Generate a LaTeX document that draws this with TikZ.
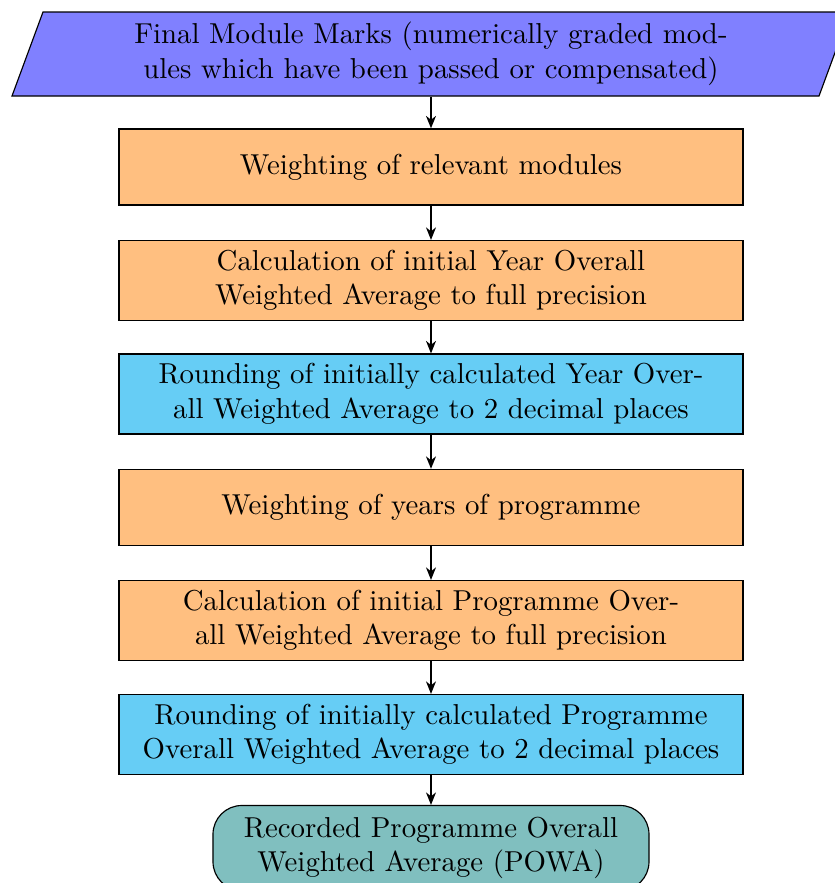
\documentclass[tikz,border=0pt]{standalone}
\usetikzlibrary{arrows.meta}
\definecolor{paraBlue}{RGB}{128,128,255}
\definecolor{boxOrange}{RGB}{255,191,128}
\definecolor{boxCyan}{RGB}{102,205,245}
\definecolor{termTeal}{RGB}{128,191,191}
\begin{document}
\begin{tikzpicture}[x=0.347pt,y=-0.347pt,
  stepbox/.style={draw, rectangle, align=center, minimum width=216.5pt, minimum height=26.4pt, inner sep=3.33pt},
  orangebox/.style={stepbox, fill=boxOrange},
  cyanbox/.style={stepbox, fill=boxCyan},
  termbox/.style={draw, rectangle, rounded corners=10pt, fill=termTeal, align=center, minimum width=151.3pt, minimum height=29.5pt, inner sep=3.33pt},
  paratext/.style={rectangle, align=center, minimum width=280pt, minimum height=29.1pt, inner sep=0pt},
  flow/.style={-{Stealth[length=4.3pt, width=3.4pt, inset=1.3pt]}, line width=0.7pt}]
\useasboundingbox (0,0) rectangle (835,883);
\filldraw[fill=paraBlue, draw=black] (12,96) -- (43,12) -- (850,12) -- (819,96) -- cycle;
\node[paratext] (p) at (431,54) {Final Module Marks (numerically graded mod-\\ules which have been passed or compensated)};
\node[orangebox] (b1) at (431,167) {Weighting of relevant modules};
\node[orangebox] (b2) at (431,280.5) {Calculation of initial Year Overall\\Weighted Average to full precision};
\node[cyanbox] (b3) at (431,394) {Rounding of initially calculated Year Over-\\all Weighted Average to 2 decimal places};
\node[orangebox] (b4) at (431,507.5) {Weighting of years of programme};
\node[orangebox] (b5) at (431,620.5) {Calculation of initial Programme Over-\\all Weighted Average to full precision};
\node[cyanbox] (b6) at (431,734.5) {Rounding of initially calculated Programme\\Overall Weighted Average to 2 decimal places};
\node[termbox] (t) at (431,848) {Recorded Programme Overall\\Weighted Average (POWA)};
\draw[flow] (p.south) -- (b1.north);
\draw[flow] (b1) -- (b2);
\draw[flow] (b2) -- (b3);
\draw[flow] (b3) -- (b4);
\draw[flow] (b4) -- (b5);
\draw[flow] (b5) -- (b6);
\draw[flow] (b6) -- (t);
\end{tikzpicture}
\end{document}
